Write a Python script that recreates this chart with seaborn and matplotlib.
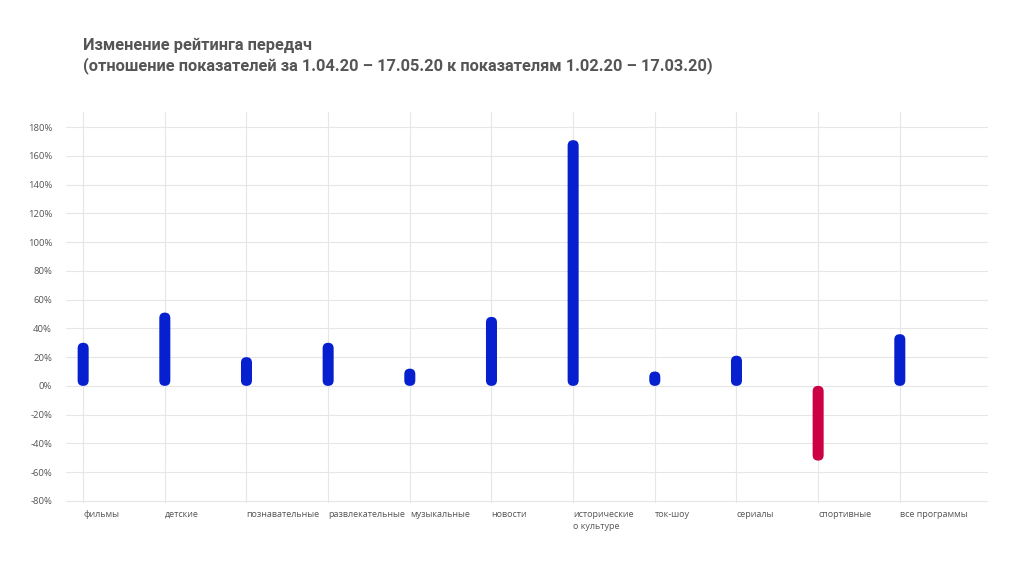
import pandas as pd
import matplotlib
matplotlib.use('Agg')
import matplotlib.pyplot as plt
import seaborn as sns
from matplotlib.patches import FancyBboxPatch
from matplotlib.ticker import FuncFormatter

categories = ['фильмы', 'детские', 'познавательные', 'развлекательные',
              'музыкальные', 'новости', 'исторические\nо культуре', 'ток-шоу',
              'сериалы', 'спортивные', 'все программы']
values = [30, 51, 20, 30, 12, 48, 171, 10, 21, -52, 36]
y_ticks = list(range(-80, 181, 20))

title = ('Изменение рейтинга передач\n'
         '(отношение показателей за 1.04.20 – 17.05.20 к показателям 1.02.20 – 17.03.20)')

df = pd.DataFrame({'cat': categories, 'val': values})
df['sign'] = ['up' if v >= 0 else 'down' for v in values]

sns.set_style('white')
plt.rcParams['font.family'] = ['Open Sans', 'DejaVu Sans']

fig = plt.figure(figsize=(10.24, 5.79), dpi=100)
ax = fig.add_axes([66/1024, 1-503/579, 922/1024, 391/579])

sns.barplot(data=df, x='cat', y='val', hue='sign', dodge=False,
            palette={'up': '#0620d0', 'down': '#cc0042'}, saturation=1,
            width=0.135, legend=False, ax=ax, zorder=3)

ax.set_xlim(-0.21, 11.08)
ax.set_ylim(-81.5, 190.6)
fig.canvas.draw()

# turn the plain bars into rounded ones
px_x = ax.transData.transform((1, 0))[0] - ax.transData.transform((0, 0))[0]
px_y = ax.transData.transform((0, 1))[1] - ax.transData.transform((0, 0))[1]
aspect = px_x / px_y
for p in list(ax.patches):
    bb = p.get_bbox()
    w = bb.x1 - bb.x0
    fb = FancyBboxPatch((bb.x0, min(bb.y0, bb.y1)), w, abs(bb.y1 - bb.y0),
                        boxstyle=f'round,pad=0,rounding_size={w/2}',
                        mutation_aspect=aspect, fc=p.get_facecolor(),
                        ec='none', lw=0, zorder=3)
    p.remove()
    ax.add_patch(fb)

ax.set_yticks(y_ticks)
ax.yaxis.set_major_formatter(FuncFormatter(lambda v, _: f'{int(v)}%'))
ax.grid(True, color='#e6e6e6', lw=0.8, zorder=0)
ax.set_axisbelow(True)
for s in ax.spines.values():
    s.set_visible(False)
ax.set_xlabel('')
ax.set_ylabel('')
ax.tick_params(axis='y', length=0, pad=10, labelsize=6.8, labelcolor='#555555')
ax.tick_params(axis='x', length=0, pad=5, labelsize=6.5, labelcolor='#555555')
for lab in ax.get_xticklabels():
    lab.set_ha('left')
    lab.set_va('top')
    lab.set_linespacing(1.45)

fig.text(83/1024, 1-37.5/579, title, fontsize=11.8, fontweight='bold',
         color='#555555', va='top', ha='left', linespacing=1.3,
         family=['Roboto', 'DejaVu Sans'])

plt.savefig('out.png', dpi=100)
